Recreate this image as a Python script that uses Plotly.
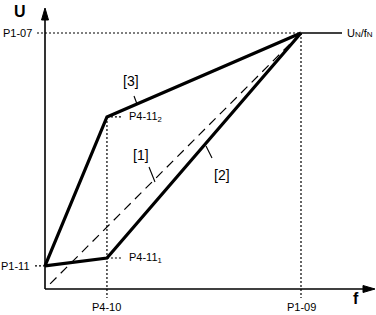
import plotly.graph_objects as go

# Data (normalized: P1-09 = 1 on f axis, P1-07 = 1 on U axis)
P4_10 = 0.242
P1_09 = 1.0
P1_07 = 1.0
P1_11 = 0.09
P4_11_1 = 0.121
P4_11_2 = 0.672

curve2_f = [0.0, P4_10, P1_09]
curve2_u = [P1_11, P4_11_1, P1_07]
curve3_f = [0.0, P4_10, P1_09]
curve3_u = [P1_11, P4_11_2, P1_07]
curve1_f = [0.02, P1_09]
curve1_u = [0.02, P1_07]

S = 256.0  # px per unit
X0, Y0 = 45.0, 289.0
W, H = 376, 315
xr = [-X0 / S, (W - X0) / S]
yr = [(Y0 - H) / S, Y0 / S]

def px(x):
    return (x - X0) / S

def py(y):
    return (Y0 - y) / S

fig = go.Figure()
FONT = "Liberation Sans, Arial, sans-serif"

def line(xs, ys, width=1, dash="solid"):
    fig.add_trace(go.Scatter(x=xs, y=ys, mode="lines",
                             line=dict(color="black", width=width, dash=dash),
                             hoverinfo="skip", showlegend=False))

def poly(xs, ys):
    fig.add_trace(go.Scatter(x=xs, y=ys, mode="lines", fill="toself",
                             fillcolor="black", line=dict(color="black", width=1),
                             hoverinfo="skip", showlegend=False))

DOT = "2px,2px"
# guide lines
line([px(37), P1_09], [P1_07, P1_07], 1.2, DOT)
line([P1_09, px(342)], [P1_07, P1_07], 1.4)
line([P1_09, P1_09], [P1_07, py(298)], 1.2, DOT)
line([P4_10, P4_10], [P4_11_2, py(298)], 1.2, DOT)
line([px(35), 0], [P1_11, P1_11], 1.2, DOT)
line([P4_10, P4_10 + 0.06], [P4_11_1, P4_11_1], 1.2, DOT)
line([P4_10, P4_10 + 0.06], [P4_11_2, P4_11_2], 1.2, DOT)

# axes
line([0, 0], [0, py(18)], 1.6)
line([0, px(366)], [0, 0], 1.6)

# arrow heads
poly([0, px(41.5), px(48.5), 0], [py(8), py(20), py(20), py(8)])
poly([px(375), px(363), px(363), px(375)], [0, py(285.5), py(292.5), 0])

# curves
line(curve1_f, curve1_u, 1.2, "9px,6px")
line(curve2_f, curve2_u, 3.2)
line(curve3_f, curve3_u, 3.2)

# leader lines
line([px(134), px(137)], [py(96), py(104)], 1.1)
line([px(149), px(155)], [py(167), py(182)], 1.1)
line([px(206), px(212)], [py(146), py(158)], 1.1)

def txt(x, y, s, size=11, xanchor="center", bold=False):
    if bold:
        s = "<b>" + s + "</b>"
    fig.add_annotation(x=x, y=y, xref="x", yref="y", text=s, showarrow=False,
                       xanchor=xanchor, yanchor="middle",
                       font=dict(family=FONT, size=size, color="black"))

txt(px(20), py(11), "U", 16, bold=True)
txt(px(356), py(298), "f", 16, bold=True)
txt(px(34), P1_07, "P1-07", 11, xanchor="right")
txt(px(32), P1_11, "P1-11", 11, xanchor="right")
txt(P4_10, py(307), "P4-10", 11)
txt(P1_09, py(307), "P1-09", 11)
txt(P4_10 + 0.08, P4_11_1, "P4-11<sub>1</sub>", 11, xanchor="left")
txt(P4_10 + 0.08, P4_11_2, "P4-11<sub>2</sub>", 11, xanchor="left")
txt(px(345), P1_07, "U<span style='font-size:8px'>N</span>/f<span style='font-size:8px'>N</span>",
    11, xanchor="left")
txt(px(131), py(81), "[3]", 14)
txt(px(141), py(155), "[1]", 14)
txt(px(222), py(175), "[2]", 14)

fig.update_xaxes(range=xr, visible=False, fixedrange=True)
fig.update_yaxes(range=yr, visible=False, fixedrange=True)
fig.update_layout(width=W, height=H, margin=dict(l=0, r=0, t=0, b=0),
                  plot_bgcolor="white", paper_bgcolor="white", showlegend=False)

fig.write_html("out.html", config={"displayModeBar": False})
